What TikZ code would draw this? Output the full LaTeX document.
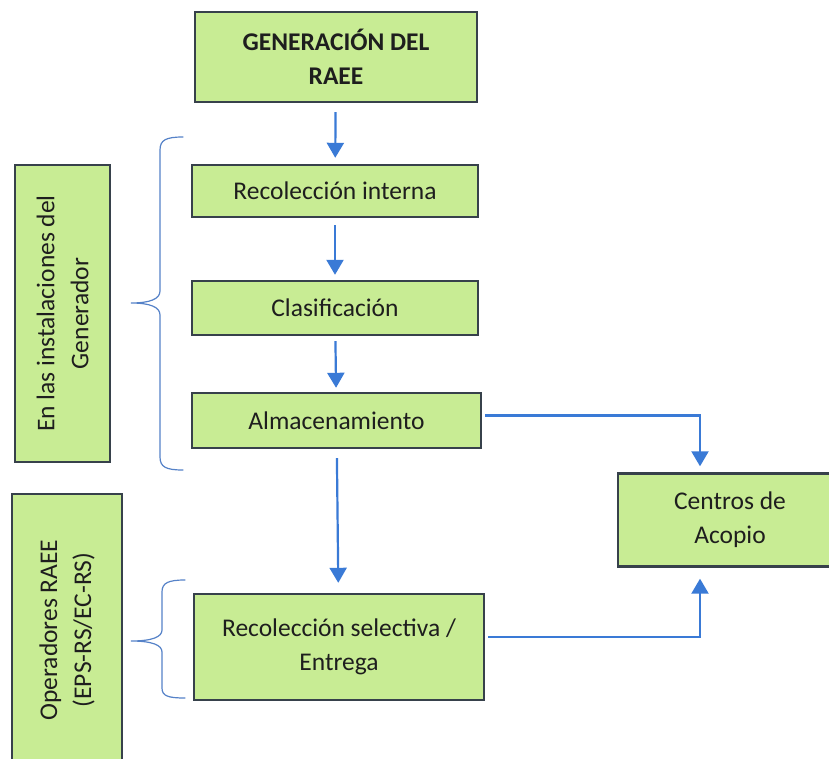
\documentclass[tikz,border=0pt]{standalone}
\usepackage{fontspec}
\setmainfont{Carlito}
\usetikzlibrary{arrows.meta}
\definecolor{boxfill}{RGB}{200,236,148}
\definecolor{boxline}{RGB}{55,65,75}
\definecolor{arrblue}{RGB}{58,122,214}
\definecolor{braceblue}{RGB}{85,130,200}
\definecolor{txt}{RGB}{30,30,30}
\tikzset{
 box/.style={draw=boxline, line width=2.4pt, fill=boxfill, inner sep=0pt, text=txt,
   font=\fontsize{25.5}{34}\selectfont, align=center},
 flow/.style={draw=arrblue, line width=2.2pt, -{Triangle[width=17pt,length=15pt]}},
 bracepath/.style={draw=braceblue, line width=1.2pt, line cap=round}
}
\begin{document}
\begin{tikzpicture}[x=1pt,y=-1pt]
\useasboundingbox (0,0) rectangle (829,759);
\fill[white] (0,0) rectangle (829,759);

\node[box, minimum width=282pt, minimum height=90pt, font=\fontsize{25.5}{34}\selectfont\bfseries] (gen) at (336,57) {GENERACIÓN DEL\\RAEE};
\node[box, minimum width=286pt, minimum height=52pt] (ri) at (335,191) {Recolección interna};
\node[box, minimum width=286pt, minimum height=54pt] (cl) at (335,308) {Clasificación};
\node[box, minimum width=289pt, minimum height=55pt] (al) at (336.5,420.5) {Almacenamiento};
\node[box, minimum width=290pt, minimum height=106pt] (rs) at (339,647) {Recolección selectiva /\\Entrega};
\node[box, minimum width=224pt, minimum height=93pt] (ce) at (730,520) {Centros de\\Acopio};

\node[box, rotate=90, minimum width=297pt, minimum height=95pt] (g1) at (62.5,313.5) {En las instalaciones del\\Generador};
\node[box, rotate=90, minimum width=272pt, minimum height=110pt] (g2) at (67,630) {Operadores RAEE\\(EPS-RS/EC-RS)};

\draw[flow, shorten <=9pt, shorten >=6pt] (gen) -- (ri);
\draw[flow, shorten <=7pt, shorten >=5pt] (ri) -- (cl);
\draw[flow, shorten <=5pt, shorten >=4pt] (cl) -- (al);
\draw[flow, shorten <=9pt, shorten >=10pt] (al) -- (rs);
\draw[flow, shorten <=3pt, shorten >=6pt] ([yshift=5pt]al.east) -| ([xshift=-30pt]ce.north);
\draw[flow, shorten <=3pt, shorten >=11pt] ([yshift=10pt]rs.east) -| ([xshift=-30pt]ce.south);

\draw[bracepath] (183,137) .. controls (166,137) and (160,140) .. (160,150) -- (160,291)
  .. controls (160,299) and (150,303) .. (131,303)
  .. controls (150,303) and (160,307) .. (160,315) -- (160,457)
  .. controls (160,467) and (166,470) .. (183,470);
\draw[bracepath] (185,580) .. controls (168,580) and (162,583) .. (162,592) -- (162,630)
  .. controls (162,637) and (152,641) .. (131,641)
  .. controls (152,641) and (162,645) .. (162,652) -- (162,688)
  .. controls (162,696) and (168,698) .. (185,698);
\end{tikzpicture}
\end{document}
